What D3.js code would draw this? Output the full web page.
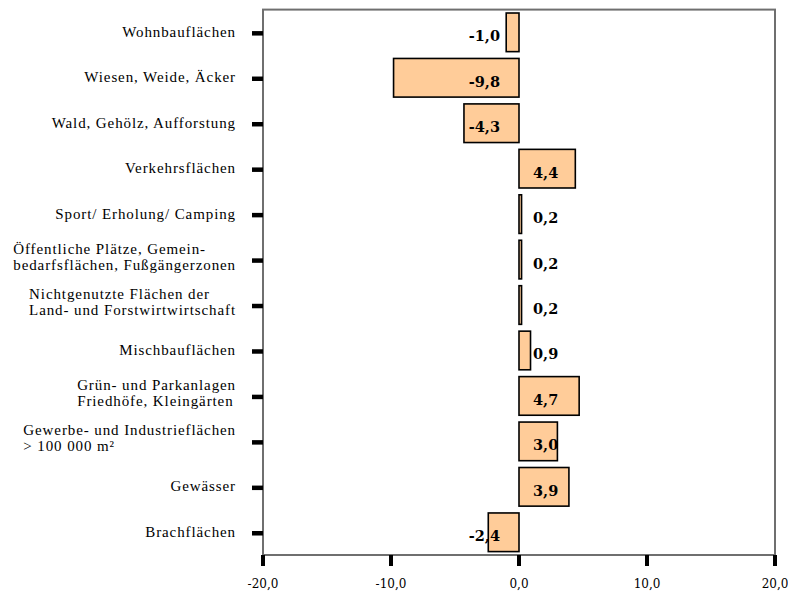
<!DOCTYPE html>
<html>
<head>
<meta charset="utf-8">
<script src="https://cdn.jsdelivr.net/npm/d3@7"></script>
<style>
  html, body { margin: 0; padding: 0; background: #fff; }
  svg { display: block; }
</style>
</head>
<body>
<svg id="chart" width="788" height="591"></svg>
<script>
// Land-use categories (each entry may span several lines)
const categories = [
  ["Wohnbauflächen"],
  ["Wiesen, Weide, Äcker"],
  ["Wald, Gehölz, Aufforstung"],
  ["Verkehrsflächen"],
  ["Sport/ Erholung/ Camping"],
  ["Öffentliche Plätze, Gemein-", "bedarfsflächen, Fußgängerzonen"],
  ["Nichtgenutzte Flächen der", "Land- und Forstwirtwirtschaft"],
  ["Mischbauflächen"],
  ["Grün- und Parkanlagen", "Friedhöfe, Kleingärten"],
  ["Gewerbe- und Industrieflächen", "> 100 000 m²"],
  ["Gewässer"],
  ["Brachflächen"]
];

// Change per category
const values = [-1.0, -9.8, -4.3, 4.4, 0.2, 0.2, 0.2, 0.9, 4.7, 3.0, 3.9, -2.4];

// Value axis
const xDomain = [-20, 20];
const xTicks = [-20, -10, 0, 10, 20];

const svg = d3.select("#chart");
const plot = { left: 263, right: 775, top: 9.6, bottom: 555 };

const locale = d3.formatLocale({
  decimal: ",", thousands: ".", grouping: [3], currency: ["", " €"], minus: "-"
});
const fmt = locale.format(".1f");

const x = d3.scaleLinear().domain(xDomain).range([plot.left, plot.right]);
const y = d3.scaleBand()
  .domain(categories.map((d, i) => i))
  .range([plot.top, plot.bottom])
  .paddingInner(0.15)
  .paddingOuter(0.075);

const serif = "'Liberation Serif', 'DejaVu Serif', serif";
const serifWide = "'DejaVu Serif', serif";

// Plot frame
svg.append("rect")
  .attr("x", plot.left).attr("y", plot.top)
  .attr("width", plot.right - plot.left)
  .attr("height", plot.bottom - plot.top)
  .attr("fill", "none")
  .attr("stroke", "#6f6f6f")
  .attr("stroke-width", 2);

// Bars
const data = values.map((v, i) => ({ i, v, label: categories[i] }));
svg.append("g").selectAll("rect")
  .data(data)
  .join("rect")
  .attr("x", d => x(Math.min(0, d.v)))
  .attr("y", d => y(d.i))
  .attr("width", d => Math.abs(x(d.v) - x(0)))
  .attr("height", y.bandwidth())
  .attr("fill", "#FFCC99")
  .attr("stroke", "#000")
  .attr("stroke-width", 1.6);

// Value labels
svg.append("g").selectAll("text")
  .data(data)
  .join("text")
  .attr("x", d => d.v < 0 ? x(0) - 19 : x(0) + 14)
  .attr("y", d => y(d.i) + y.bandwidth() / 2 + 9)
  .attr("text-anchor", d => d.v < 0 ? "end" : "start")
  .attr("font-family", serifWide)
  .attr("font-weight", "bold")
  .attr("font-size", 14.5)
  .attr("fill", "#000")
  .text(d => fmt(d.v));

// Category tick marks
svg.append("g").selectAll("line")
  .data(data)
  .join("line")
  .attr("x1", plot.left - 11).attr("x2", plot.left)
  .attr("y1", d => y(d.i) + y.bandwidth() / 2 + 1)
  .attr("y2", d => y(d.i) + y.bandwidth() / 2 + 1)
  .attr("stroke", "#000")
  .attr("stroke-width", 4.5);

// Category labels: block right-aligned, lines left-aligned inside the block
const labelRight = 236;
const labelG = svg.append("g");
data.forEach(d => {
  const cy = y(d.i) + y.bandwidth() / 2;
  const lines = d.label;
  const g = labelG.append("g");
  const texts = lines.map((line, k) => {
    const base = lines.length === 1 ? cy + 4.5 : cy - 6 + k * 16;
    return g.append("text")
      .attr("y", base)
      .attr("font-family", serif)
      .attr("font-size", 15)
      .attr("letter-spacing", 0.9)
      .attr("fill", "#000")
      .text(line);
  });
  const widths = texts.map(t => t.node().getComputedTextLength());
  const w = d3.max(widths);
  texts.forEach(t => t.attr("x", labelRight - w));
});

// Value axis ticks and labels
const xAxis = svg.append("g");
xAxis.selectAll("line")
  .data(xTicks)
  .join("line")
  .attr("x1", d => x(d)).attr("x2", d => x(d))
  .attr("y1", plot.bottom).attr("y2", plot.bottom + 11)
  .attr("stroke", "#000")
  .attr("stroke-width", 4);
xAxis.selectAll("text")
  .data(xTicks)
  .join("text")
  .attr("x", d => x(d))
  .attr("y", 588)
  .attr("text-anchor", "middle")
  .attr("font-family", serifWide)
  .attr("font-size", 12)
  .attr("fill", "#000")
  .text(d => fmt(d));
</script>
</body>
</html>
